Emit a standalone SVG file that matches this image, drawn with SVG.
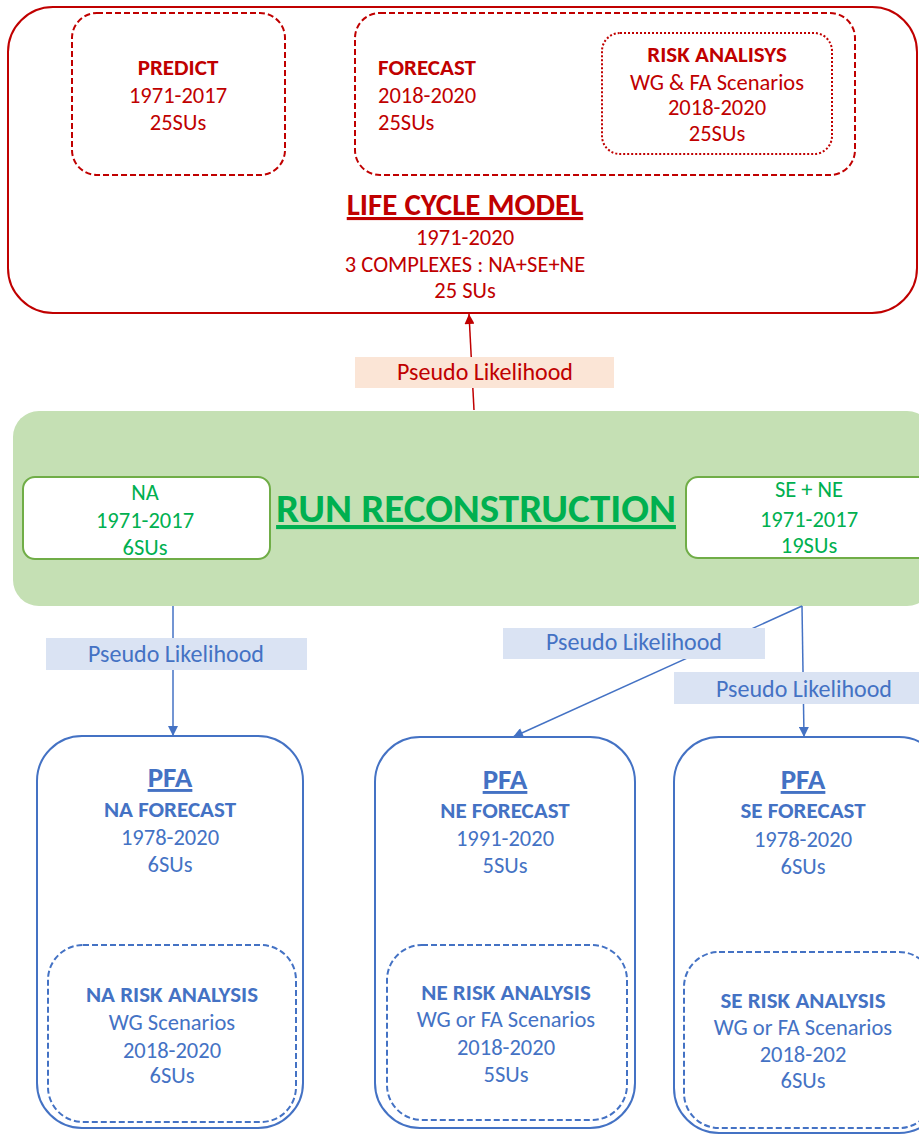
<svg xmlns="http://www.w3.org/2000/svg" width="919" height="1135" viewBox="0 0 919 1135">
<style>
text{font-family:Carlito,'Liberation Sans Narrow','Liberation Sans',sans-serif;font-size:22.5px;text-anchor:middle}
.b{font-weight:bold;font-size:23px}
.red{fill:#c00000}
.grn{fill:#00b050}
.blu{fill:#4472c4}
.lbl{font-size:24px}
.ttl{font-weight:bold;text-decoration:underline}
.rbox{fill:none;stroke:#c00000;stroke-width:2}
.rdash{fill:none;stroke:#c00000;stroke-width:2;stroke-dasharray:6 3}
.rdot{fill:none;stroke:#c00000;stroke-width:2;stroke-dasharray:2 2}
.gin{fill:#fff;stroke:#70ad47;stroke-width:2}
.bbox{fill:#fff;stroke:#4472c4;stroke-width:2}
.bdash{fill:none;stroke:#4472c4;stroke-width:2;stroke-dasharray:6 3}
.bl{stroke:#4472c4;stroke-width:1.5;fill:none}
.rl{stroke:#c00000;stroke-width:1.5;fill:none}
</style>
<defs>
<marker id="ab" viewBox="0 0 10 10" refX="10" refY="5" markerWidth="11" markerHeight="10" markerUnits="userSpaceOnUse" orient="auto"><path d="M0,0L10,5L0,10z" fill="#4472c4"/></marker>
<marker id="ar" viewBox="0 0 10 10" refX="10" refY="5" markerWidth="11" markerHeight="10" markerUnits="userSpaceOnUse" orient="auto"><path d="M0,0L10,5L0,10z" fill="#c00000"/></marker>
</defs>
<rect width="919" height="1135" fill="#fff"/>

<g id="life-cycle-model">
<rect class="rbox" x="8" y="7" width="909" height="306" rx="45"/>
<text class="red ttl" x="465" y="215" style="font-size:31px">LIFE CYCLE MODEL</text>
<text class="red" x="465" y="245">1971-2020</text>
<text class="red" x="465" y="272">3 COMPLEXES : NA+SE+NE</text>
<text class="red" x="465" y="298">25 SUs</text>
</g>
<g id="predict">
<rect class="rdash" x="72" y="13" width="213" height="162" rx="25"/>
<text class="red b" x="178" y="75">PREDICT</text>
<text class="red" x="178" y="103">1971-2017</text>
<text class="red" x="178" y="130">25SUs</text>
</g>
<g id="forecast">
<rect class="rdash" x="355" y="13" width="500" height="162" rx="25"/>
<text class="red b" x="378" y="75" style="text-anchor:start">FORECAST</text>
<text class="red" x="378" y="103" style="text-anchor:start">2018-2020</text>
<text class="red" x="378" y="130" style="text-anchor:start">25SUs</text>
</g>
<g id="risk-analisys">
<rect class="rdot" x="602" y="33" width="230" height="121" rx="18"/>
<text class="red b" x="717" y="62">RISK ANALISYS</text>
<text class="red" x="717" y="90">WG &amp; FA Scenarios</text>
<text class="red" x="717" y="115">2018-2020</text>
<text class="red" x="717" y="141">25SUs</text>
</g>

<g id="run-reconstruction">
<rect x="13" y="411" width="920" height="195" rx="26" fill="#c5e0b4"/>
<text class="grn ttl" x="476" y="522" style="font-size:41px">RUN RECONSTRUCTION</text>
</g>
<g id="na-run">
<rect class="gin" x="23" y="477" width="247" height="82" rx="12"/>
<text class="grn" x="145" y="500">NA</text>
<text class="grn" x="145" y="528">1971-2017</text>
<text class="grn" x="145" y="555">6SUs</text>
</g>
<g id="sene-run">
<rect class="gin" x="686" y="477" width="250" height="81" rx="12"/>
<text class="grn" x="809" y="497">SE + NE</text>
<text class="grn" x="809" y="527">1971-2017</text>
<text class="grn" x="809" y="553">19SUs</text>
</g>

<g id="connectors">
<line class="rl" x1="474" y1="410" x2="469" y2="314" marker-end="url(#ar)"/>
<rect x="355" y="357" width="259" height="31" fill="#fbe5d6"/>
<text class="red lbl" x="485" y="380">Pseudo Likelihood</text>

<line class="bl" x1="173" y1="606" x2="173" y2="736" marker-end="url(#ab)"/>
<rect x="46" y="638" width="261" height="32" fill="#dae3f3"/>
<text class="blu lbl" x="176" y="662">Pseudo Likelihood</text>

<line class="bl" x1="802" y1="606" x2="513" y2="737" marker-end="url(#ab)"/>
<rect x="503" y="628" width="262" height="31" fill="#dae3f3"/>
<text class="blu lbl" x="634" y="650">Pseudo Likelihood</text>

<line class="bl" x1="802" y1="606" x2="804" y2="737" marker-end="url(#ab)"/>
<rect x="674" y="672" width="245" height="32" fill="#dae3f3"/>
<text class="blu lbl" x="804" y="697">Pseudo Likelihood</text>
</g>

<g id="pfa-na">
<rect class="bbox" x="37" y="736" width="266" height="392" rx="45"/>
<rect class="bdash" x="48" y="945" width="248" height="177" rx="35"/>
<text class="blu ttl" x="170" y="787" style="font-size:29px">PFA</text>
<text class="blu b" x="170" y="817">NA FORECAST</text>
<text class="blu" x="170" y="845">1978-2020</text>
<text class="blu" x="170" y="872">6SUs</text>
<text class="blu b" x="172" y="1002">NA RISK ANALYSIS</text>
<text class="blu" x="172" y="1030">WG Scenarios</text>
<text class="blu" x="172" y="1058">2018-2020</text>
<text class="blu" x="172" y="1083">6SUs</text>
</g>
<g id="pfa-ne">
<rect class="bbox" x="375" y="737" width="260" height="391" rx="45"/>
<rect class="bdash" x="387" y="945" width="240" height="175" rx="35"/>
<text class="blu ttl" x="505" y="789" style="font-size:29px">PFA</text>
<text class="blu b" x="505" y="818">NE FORECAST</text>
<text class="blu" x="505" y="846">1991-2020</text>
<text class="blu" x="505" y="873">5SUs</text>
<text class="blu b" x="506" y="1000">NE RISK ANALYSIS</text>
<text class="blu" x="506" y="1027">WG or FA Scenarios</text>
<text class="blu" x="506" y="1055">2018-2020</text>
<text class="blu" x="506" y="1082">5SUs</text>
</g>
<g id="pfa-se">
<rect class="bbox" x="674" y="737" width="270" height="396" rx="45"/>
<rect class="bdash" x="684" y="952" width="250" height="176" rx="35"/>
<text class="blu ttl" x="803" y="789" style="font-size:29px">PFA</text>
<text class="blu b" x="803" y="818">SE FORECAST</text>
<text class="blu" x="803" y="847">1978-2020</text>
<text class="blu" x="803" y="874">6SUs</text>
<text class="blu b" x="803" y="1008">SE RISK ANALYSIS</text>
<text class="blu" x="803" y="1035">WG or FA Scenarios</text>
<text class="blu" x="803" y="1062">2018-202</text>
<text class="blu" x="803" y="1088">6SUs</text>
</g>
</svg>
